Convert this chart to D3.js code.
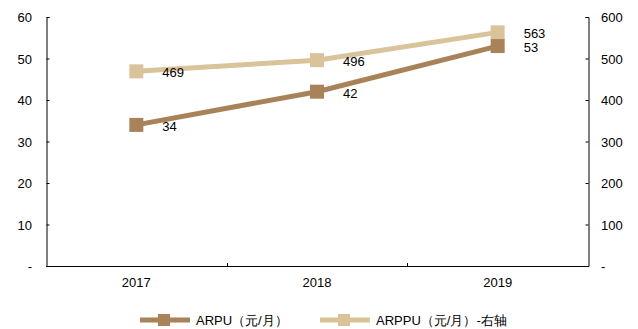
<!DOCTYPE html>
<html>
<head>
<meta charset="utf-8">
<script src="https://cdn.jsdelivr.net/npm/d3@7"></script>
<style>
  html, body { margin: 0; padding: 0; background: #fff; }
  svg { display: block; font-family: "Liberation Sans", Arial, sans-serif; }
</style>
</head>
<body>
<svg id="chart" width="638" height="329"></svg>
<script>
// Years on the category axis
const years = ["2017", "2018", "2019"];
// ARPU, yuan per month (left axis)
const arpu = [34, 42, 53];
// ARPPU, yuan per month (right axis)
const arppu = [469, 496, 563];
// Tick values for each axis
const leftTicks = [0, 10, 20, 30, 40, 50, 60];
const rightTicks = [0, 100, 200, 300, 400, 500, 600];
// Legend captions
const legendNames = ["ARPU（元/月）", "ARPPU（元/月）-右轴"];

(function () {
  const colorArpu = "#A88259";
  const colorArppu = "#D8C39B";
  const fs = 13;

  const svg = d3.select("#chart");
  const plotLeft = 46, plotRight = 588, plotTop = 17, plotBottom = 266;

  const x = d3.scaleBand().domain(years).range([plotLeft, plotRight]).padding(0);
  const yL = d3.scaleLinear().domain([0, 60]).range([plotBottom, plotTop]);
  const yR = d3.scaleLinear().domain([0, 600]).range([plotBottom, plotTop]);

  const fmt = v => v === 0 ? "-" : String(v);

  // Left axis: ticks point into the plot
  const gl = svg.append("g").attr("transform", `translate(${plotLeft + 0.5},0)`)
    .call(d3.axisRight(yL).tickValues(leftTicks).tickSize(3).tickFormat(""));
  gl.select(".domain").attr("stroke", "#000");
  gl.selectAll(".tick line").attr("stroke", "#000");
  svg.append("g").selectAll("text").data(leftTicks).join("text")
    .attr("x", 32).attr("y", d => yL(d) + 5)
    .attr("text-anchor", "end").attr("font-size", fs).attr("fill", "#000")
    .text(fmt);

  // Right axis
  const gr = svg.append("g").attr("transform", `translate(${plotRight + 0.5},0)`)
    .call(d3.axisLeft(yR).tickValues(rightTicks).tickSize(3).tickFormat(""));
  gr.select(".domain").attr("stroke", "#000");
  gr.selectAll(".tick line").attr("stroke", "#000");
  svg.append("g").selectAll("text").data(rightTicks).join("text")
    .attr("x", 601).attr("y", d => yR(d) + 5)
    .attr("text-anchor", "start").attr("font-size", fs).attr("fill", "#000")
    .text(fmt);

  // Bottom axis: ticks at category boundaries, pointing up
  svg.append("line").attr("x1", plotLeft).attr("x2", plotRight)
    .attr("y1", plotBottom + 0.5).attr("y2", plotBottom + 0.5).attr("stroke", "#000");
  svg.append("g").selectAll("line").data(years.slice(1)).join("line")
    .attr("x1", d => Math.round(x(d)) + 0.5).attr("x2", d => Math.round(x(d)) + 0.5)
    .attr("y1", plotBottom).attr("y2", plotBottom - 3).attr("stroke", "#000");
  svg.append("g").selectAll("text").data(years).join("text")
    .attr("x", d => x(d) + x.bandwidth() / 2).attr("y", 287)
    .attr("text-anchor", "middle").attr("font-size", fs).attr("fill", "#000")
    .text(d => d);

  const cx = d => x(d) + x.bandwidth() / 2;

  function drawSeries(values, yScale, color) {
    const pts = years.map((yr, i) => [cx(yr), yScale(values[i]), values[i]]);
    svg.append("path").datum(pts)
      .attr("d", d3.line().x(p => p[0]).y(p => p[1]))
      .attr("fill", "none").attr("stroke", color).attr("stroke-width", 5);
    svg.append("g").selectAll("rect").data(pts).join("rect")
      .attr("x", p => p[0] - 7).attr("y", p => p[1] - 7)
      .attr("width", 14).attr("height", 14).attr("fill", color);
    svg.append("g").selectAll("text").data(pts).join("text")
      .attr("x", p => p[0] + 26).attr("y", p => p[1] + 6)
      .attr("font-size", fs).attr("fill", "#000")
      .text(p => p[2]);
  }

  drawSeries(arppu, yR, colorArppu);
  drawSeries(arpu, yL, colorArpu);

  // Legend
  const legend = [
    { name: legendNames[0], color: colorArpu, x0: 140 },
    { name: legendNames[1], color: colorArppu, x0: 320 }
  ];
  const ly = 320;
  legend.forEach(l => {
    svg.append("line").attr("x1", l.x0).attr("x2", l.x0 + 50)
      .attr("y1", ly).attr("y2", ly)
      .attr("stroke", l.color).attr("stroke-width", 5);
    svg.append("rect").attr("x", l.x0 + 18).attr("y", ly - 6)
      .attr("width", 12).attr("height", 12).attr("fill", l.color);
    svg.append("text").attr("x", l.x0 + 56).attr("y", ly + 5)
      .attr("font-size", fs).attr("fill", "#000").text(l.name);
  });
})();
</script>
</body>
</html>
